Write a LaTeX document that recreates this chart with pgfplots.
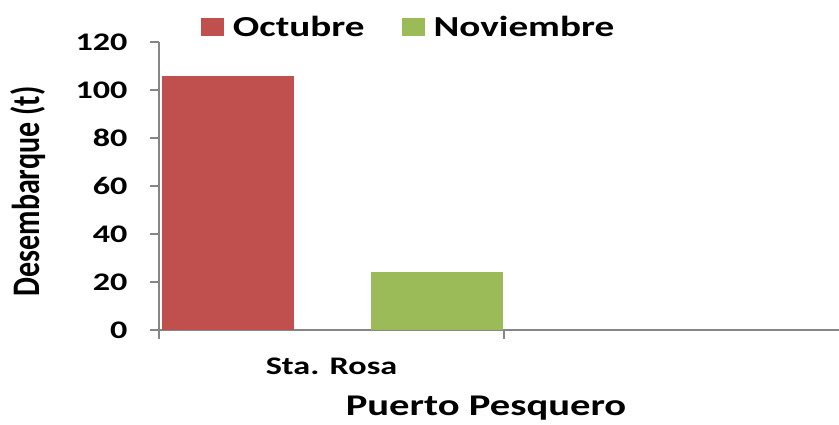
\documentclass[border=0pt]{standalone}
\usepackage{fontspec}
\setmainfont{Carlito}
\newfontfamily\wide{Carlito}[FakeStretch=1.35]
\usepackage{pgfplots}
\pgfplotsset{compat=1.18}
\usetikzlibrary{calc}
\definecolor{octred}{HTML}{C0504D}
\definecolor{novgreen}{HTML}{9BBB59}
\definecolor{axgray}{HTML}{868686}

\begin{document}
\begin{tikzpicture}
\begin{axis}[
  name=ax,
  scale only axis, width=680pt, height=288pt,
  xmin=0, xmax=1.971, ymin=0, ymax=120,
  axis x line=bottom, axis y line=left,
  axis line style={draw=axgray, line width=2pt, -},
  ytick={0,20,...,120},
  xtick={0,1}, xticklabels={},
  extra x ticks={0.5}, extra x tick labels={Sta. Rosa},
  extra x tick style={major tick length=0pt, tick label style={yshift=-24pt}},
  tick align=outside, major tick length=9pt,
  tick style={draw=axgray, line width=2pt},
  tick label style={font=\wide\bfseries\fontsize{25.3}{30}\selectfont},
  yticklabel style={xshift=-19pt},
  /pgf/number format/assume math mode=true,
  xlabel={Puerto Pesquero},
  xlabel style={font=\wide\bfseries\fontsize{30.1}{36}\selectfont, at={(axis description cs:0.481,-0.271)}, anchor=center},
  ylabel={Desembarque (t)},
  ylabel style={font=\bfseries\fontsize{30}{36}\selectfont, at={(axis description cs:-0.193,0.481)}, anchor=center, yscale=1.3},
  legend columns=2,
  legend style={draw=none, fill=none, at={(axis description cs:0.057,1.052)}, anchor=west,
    font=\wide\bfseries\fontsize{29}{34}\selectfont,
    /tikz/every even column/.append style={column sep=35pt}},
  legend image code/.code={\fill[#1] (0pt,-9pt) rectangle (23pt,9pt); \path (30pt,0pt);},
]
\addplot[ybar, bar width=0.383, bar shift=0pt, fill=octred, draw=none] coordinates {(0.2,105.8)};
\addlegendentry{Octubre}
\addplot[ybar, bar width=0.383, bar shift=0pt, fill=novgreen, draw=none] coordinates {(0.806,24.2)};
\addlegendentry{Noviembre}
\end{axis}
\pgfresetboundingbox
\path ($(ax.south west)+(-159pt,-95pt)$) rectangle ($(ax.north east)+(0pt,42pt)$);
\end{tikzpicture}
\end{document}
